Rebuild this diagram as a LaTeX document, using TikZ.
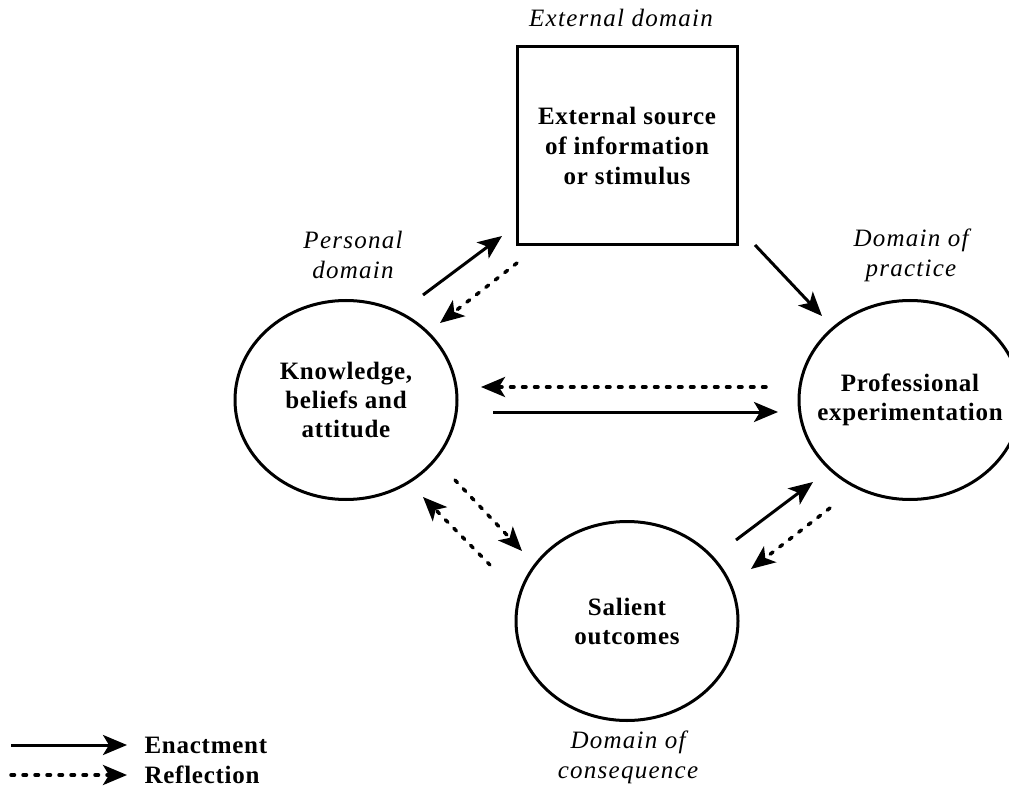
\documentclass[tikz,border=0pt]{standalone}
\usepackage{fontspec}
\setmainfont{Liberation Serif}
\newfontfamily\nodefont[LetterSpace=3]{Liberation Serif}
\newfontfamily\zonefont[LetterSpace=5]{Liberation Serif}
\usetikzlibrary{arrows.meta,shapes.geometric}

\begin{document}
\begin{tikzpicture}[
  x=1pt, y=-1pt,
  realm/.style={ellipse,draw,line width=3pt,minimum width=222pt,minimum height=199pt,inner xsep=-30pt,inner ysep=0pt,align=center,font=\nodefont\fontsize{25}{29}\selectfont\bfseries},
  srcbox/.style={rectangle,draw,line width=3pt,minimum width=220pt,minimum height=198pt,inner sep=0pt,align=center,font=\nodefont\fontsize{25}{30}\selectfont\bfseries},
  zonelabel/.style={align=center,font=\zonefont\fontsize{25}{30}\selectfont\itshape},
  keylabel/.style={anchor=west,font=\nodefont\fontsize{25}{29}\selectfont\bfseries},
  enact/.style={line width=3pt,-{Stealth[length=24pt,width=20pt,inset=6pt]}},
  reflect/.style={line width=3.5pt,line cap=round,dash pattern=on 3.5pt off 8.5pt,-{Stealth[length=24pt,width=20pt,inset=6pt]}}
]
  \useasboundingbox (0,0) rectangle (1009,794);
  \node[srcbox] (esi) at (627,146) {External source\\of information\\or stimulus};
  \node[realm] (kba) at (346,400) {Knowledge,\\beliefs and\\attitude};
  \node[realm] (pe) at (910,400) {Professional\\experimentation};
  \node[realm] (so) at (627,621) {Salient\\outcomes};
  \node[zonelabel] (ed) at (621,18) {External domain};
  \node[zonelabel] (pd) at (353,255) {Personal\\domain};
  \node[zonelabel] (dp) at (911,255) {Domain of\\practice};
  \node[zonelabel] (dc) at (628,757) {Domain of\\consequence};
  % arrow ends
  \coordinate (a1) at (423,295);  \coordinate (b1) at (502,236);
  \coordinate (a2) at (517,263);  \coordinate (b2) at (440,323);
  \coordinate (a3) at (755,245);  \coordinate (b3) at (822,316);
  \coordinate (a4) at (766,387);  \coordinate (b4) at (481,387);
  \coordinate (a5) at (493,412);  \coordinate (b5) at (778,412);
  \coordinate (a6) at (455,480);  \coordinate (b6) at (522,551);
  \coordinate (a7) at (490,565);  \coordinate (b7) at (423,497);
  \coordinate (a8) at (736,540);  \coordinate (b8) at (813,482);
  \coordinate (a9) at (830,508);  \coordinate (b9) at (751,569);
  \draw[enact] (a1) -- (b1);
  \draw[reflect] (a2) -- (b2);
  \draw[enact] (a3) -- (b3);
  \draw[reflect] (a4) -- (b4);
  \draw[enact] (a5) -- (b5);
  \draw[reflect] (a6) -- (b6);
  \draw[reflect] (a7) -- (b7);
  \draw[enact] (a8) -- (b8);
  \draw[reflect] (a9) -- (b9);
  % legend
  \coordinate (l1) at (11,745);  \coordinate (m1) at (127,745);
  \coordinate (l2) at (11,775);  \coordinate (m2) at (127,775);
  \draw[enact] (l1) -- (m1);
  \draw[reflect] (l2) -- (m2);
  \node[keylabel] (en) at (141,745) {Enactment};
  \node[keylabel] (re) at (141,775) {Reflection};
\end{tikzpicture}
\end{document}
